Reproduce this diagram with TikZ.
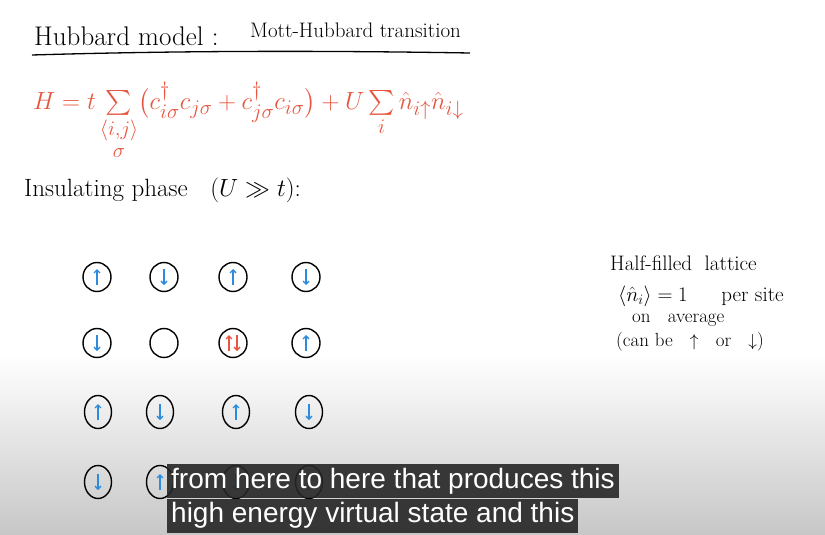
\documentclass[tikz,border=0pt]{standalone}
\usepackage{amsmath}
\usepackage{fontspec}
\newfontfamily\capfont{Liberation Sans}
\usetikzlibrary{positioning,shapes.geometric,arrows.meta}

\definecolor{penred}{HTML}{E8553F}
\definecolor{penblue}{HTML}{2C8BDC}
\definecolor{capbg}{HTML}{262626}

\tikzset{
  site/.style={draw, ellipse, line width=1.4pt, minimum width=28pt, minimum height=29pt, inner sep=0pt},
  tallsite/.style={site, minimum width=27pt, minimum height=33pt},
  spin/.style={penblue, line width=1.3pt, -{Straight Barb[length=3pt,width=6pt]}},
  hand/.style={inner sep=0pt, anchor=west},
  caption/.style={fill=capbg, fill opacity=0.9, text opacity=1, text=white, anchor=north west,
    font=\capfont\fontsize{28}{30}\selectfont, inner xsep=4pt, text height=21pt, text depth=7pt, inner ysep=3pt}
}

\newcommand{\spinup}[2][penblue]{\draw[spin,#1] ([yshift=-8pt]#2.center) -- ([yshift=8pt]#2.center);}
\newcommand{\spindown}[2][penblue]{\draw[spin,#1] ([yshift=8pt]#2.center) -- ([yshift=-8pt]#2.center);}

\begin{document}
\begin{tikzpicture}[x=1pt,y=-1pt]
\useasboundingbox (0,0) rectangle (825,535);

% background, darker at the bottom
\fill[white] (0,0) rectangle (825,355);
\shade[top color=white, bottom color=black!22] (0,355) rectangle (825,535);

% title
\node[hand, font=\fontsize{27}{30}\selectfont] (title) at (34,36) {Hubbard model :};
\node[hand, font=\fontsize{21}{24}\selectfont] (subtitle) at (250,30) {Mott-Hubbard transition};
\draw[line width=1.3pt] (32,55) .. controls (200,50) and (350,51) .. (470,53);

% hamiltonian
\node[hand, text=penred, font=\fontsize{32}{34}\selectfont] (ham) at (33,121)
  {$H = t\sum\limits_{\begin{subarray}{c}\langle i,j\rangle\\[5pt] \sigma\end{subarray}} \bigl(c^\dagger_{i\sigma} c_{j\sigma} + c^\dagger_{j\sigma} c_{i\sigma}\bigr) + U \sum\limits_i \hat n_{i\uparrow}\hat n_{i\downarrow}$};

\node[hand, font=\fontsize{25}{28}\selectfont] (phase) at (24,190) {Insulating phase \ \ $(U \gg t)$:};

% lattice sites
\foreach \c/\x in {1/97,2/164,3/233,4/306} {
  \node[site] (s1\c) at (\x,277) {};
  \node[site] (s2\c) at (\x,343) {};
}
\foreach \c/\x in {1/98,2/160,3/236,4/309} {
  \node[tallsite] (s3\c) at (\x,412) {};
  \node[tallsite] (s4\c) at (\x,482) {};
}

\spinup{s11} \spindown{s12} \spinup{s13} \spindown{s14}
\spindown{s21} \spinup{s24}
\draw[spin,penred] ([xshift=-4pt,yshift=-8pt]s23.center) -- ([xshift=-4pt,yshift=8pt]s23.center);
\draw[spin,penred] ([xshift=4pt,yshift=8pt]s23.center) -- ([xshift=4pt,yshift=-8pt]s23.center);
\spinup{s31} \spindown{s32} \spinup{s33} \spindown{s34}
\spindown{s41} \spinup{s42} \spindown{s43} \spinup{s44}

% side note
\node[hand, font=\fontsize{21}{23}\selectfont] (note1) at (610,263) {Half-filled \ lattice};
\node[hand, font=\fontsize{21}{23}\selectfont] (note2) at (618,296) {$\langle \hat n_i\rangle = 1$ \quad\ per site};
\node[hand, font=\fontsize{19}{21}\selectfont] (note3) at (632,320) {on \ \ average};
\node[hand, font=\fontsize{19}{21}\selectfont] (note4) at (616,342) {(can be \ \ $\uparrow$ \ \ or \ \ $\downarrow$)};

% captions
\node[caption] (cap1) at (167,464) {from here to here that produces this};
\node[caption, below=0pt of cap1.south west, anchor=north west] (cap2) {high energy virtual state and this};
\end{tikzpicture}
\end{document}
